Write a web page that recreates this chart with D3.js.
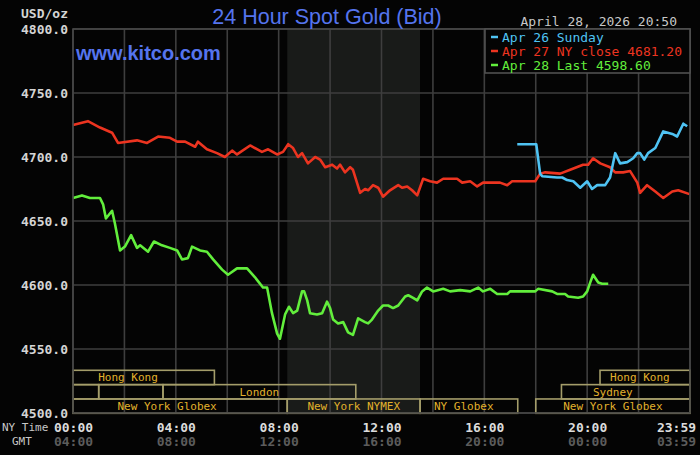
<!DOCTYPE html>
<html><head><meta charset="utf-8">
<script src="https://cdn.jsdelivr.net/npm/d3@7"></script>
<style>html,body{margin:0;padding:0;background:#040404;} svg{display:block}</style>
</head><body>
<svg id="c" width="700" height="455"></svg>
<script>
// ---------- data ----------
const yTicks = [4500, 4550, 4600, 4650, 4700, 4750, 4800];
const xTickHours = [0, 4, 8, 12, 16, 20, 23.983];
const nyLabels = ["00:00", "04:00", "08:00", "12:00", "16:00", "20:00", "23:59"];
const gmtLabels = ["04:00", "08:00", "12:00", "16:00", "20:00", "00:00", "03:59"];
const gridHours = [0, 2, 4, 6, 8, 10, 12, 14, 16, 18, 20, 22, 24];
const nymexHours = [8.333, 13.5];
const legendLabels = ["Apr 26 Sunday", "Apr 27 NY close 4681.20", "Apr 28 Last 4598.60"];
const seriesColors = ["#4fc3f3", "#ec3420", "#62ee3c"];

const blueTimes = [17.28, 18.02, 18.17, 18.25, 18.83, 19.03, 19.22, 19.46, 19.73, 20.00, 20.19, 20.39, 20.70, 20.89, 21.09, 21.28, 21.56, 21.79, 21.95, 22.06, 22.22, 22.37, 22.65, 22.96, 23.31, 23.50, 23.74, 23.89];
const blueValues = [4710, 4710, 4687, 4685, 4684, 4684, 4682, 4681, 4676, 4681, 4675, 4678, 4678, 4684, 4703, 4695, 4696, 4699, 4703, 4703, 4698, 4703, 4707, 4720, 4718, 4716, 4726, 4724];

const redTimes = [0.00, 0.58, 1.05, 1.52, 1.75, 2.49, 2.88, 3.31, 3.77, 4.05, 4.36, 4.75, 4.86, 5.21, 5.60, 5.91, 6.19, 6.38, 6.89, 7.35, 7.59, 7.94, 8.17, 8.37, 8.56, 8.75, 8.91, 9.14, 9.42, 9.61, 9.81, 10.08, 10.27, 10.39, 10.58, 10.78, 10.89, 11.17, 11.36, 11.48, 11.67, 11.87, 12.06, 12.33, 12.65, 12.80, 13.00, 13.19, 13.39, 13.62, 13.89, 14.16, 14.40, 14.75, 14.94, 15.14, 15.45, 15.72, 15.95, 16.34, 16.61, 16.89, 17.08, 17.98, 18.17, 18.37, 18.95, 19.34, 19.84, 20.04, 20.23, 20.51, 20.89, 21.09, 21.40, 21.67, 21.95, 22.06, 22.33, 22.65, 22.96, 23.31, 23.54, 23.98];
const redValues = [4725, 4728, 4723, 4719, 4711, 4713, 4711, 4716, 4715, 4712, 4712, 4708, 4712, 4706, 4703, 4700, 4705, 4702, 4709, 4704, 4706, 4702, 4704, 4710, 4707, 4700, 4703, 4695, 4700, 4698, 4692, 4694, 4691, 4694, 4688, 4692, 4690, 4672, 4675, 4674, 4678, 4676, 4669, 4674, 4678, 4676, 4677, 4674, 4670, 4683, 4681, 4680, 4683, 4683, 4683, 4680, 4681, 4677, 4680, 4680, 4680, 4678, 4681, 4681, 4687, 4688, 4687, 4690, 4694, 4694, 4699, 4695, 4692, 4688, 4688, 4689, 4680, 4672, 4678, 4673, 4668, 4673, 4674, 4671];

const greenTimes = [0.00, 0.35, 0.66, 1.05, 1.17, 1.28, 1.52, 1.63, 1.83, 2.02, 2.26, 2.49, 2.61, 2.92, 3.15, 3.46, 3.77, 4.05, 4.24, 4.47, 4.63, 4.94, 5.21, 5.45, 5.80, 6.03, 6.38, 6.77, 7.08, 7.39, 7.55, 7.74, 7.94, 8.05, 8.25, 8.40, 8.56, 8.72, 8.91, 8.99, 9.11, 9.22, 9.49, 9.69, 9.88, 10.00, 10.12, 10.31, 10.51, 10.70, 10.89, 11.09, 11.36, 11.48, 11.63, 11.87, 12.06, 12.26, 12.45, 12.65, 12.92, 13.04, 13.23, 13.39, 13.58, 13.77, 14.01, 14.40, 14.67, 15.06, 15.45, 15.76, 15.95, 16.23, 16.50, 16.89, 17.00, 17.98, 18.09, 18.64, 18.83, 19.14, 19.26, 19.65, 19.84, 20.00, 20.12, 20.23, 20.43, 20.58, 20.82];
const greenValues = [4668, 4670, 4668, 4668, 4663, 4652, 4658, 4648, 4627, 4630, 4639, 4629, 4631, 4626, 4634, 4631, 4629, 4627, 4620, 4621, 4630, 4627, 4626, 4620, 4612, 4608, 4613, 4613, 4606, 4598, 4598, 4578, 4562, 4558, 4577, 4583, 4578, 4580, 4595, 4595, 4588, 4578, 4577, 4578, 4587, 4582, 4573, 4570, 4571, 4563, 4561, 4574, 4571, 4570, 4573, 4580, 4584, 4584, 4582, 4584, 4591, 4592, 4590, 4588, 4595, 4598, 4595, 4597, 4595, 4596, 4595, 4598, 4595, 4597, 4593, 4593, 4595, 4595, 4597, 4595, 4593, 4593, 4591, 4590, 4591, 4595, 4602, 4608, 4602, 4601, 4601];

// market sessions: row, start hour, end hour, label, label hour
const sessionRows = [0, 0, 1, 1, 1, 1, 2, 2, 2, 2];
const sessionStarts = [0, 20.5, 0, 1, 3.5, 19, 0, 8.333, 13.5, 18];
const sessionEnds = [5.5, 24, 1, 3.5, 11, 24, 8.333, 13.5, 17.3, 24];
const sessionNames = ["Hong Kong", "Hong Kong", "", "", "London", "Sydney", "New York Globex", "New York NYMEX", "NY Globex", "New York Globex"];
const sessionLabelHours = [2.14, 22.05, 0, 0, 7.25, 21.0, 3.66, 10.92, 15.2, 21.0];

// ---------- drawing ----------
const W = 700, H = 455;
const pLeft = 73, pRight = 690, pTop = 29, pBottom = 413;
const mono = "'DejaVu Sans Mono', monospace";
const svg = d3.select("#c");
svg.append("rect").attr("width", W).attr("height", H).attr("fill", "#040404");

const x = d3.scaleLinear().domain([0, 24]).range([pLeft, pRight]);
const y = d3.scaleLinear().domain([4500, 4800]).range([pBottom, pTop]);
const rowY = d3.scaleLinear().domain([0, 3]).range([370.3, 413.3]);

// NYMEX shaded region
svg.append("rect")
  .attr("x", x(nymexHours[0])).attr("y", pTop)
  .attr("width", x(nymexHours[1]) - x(nymexHours[0])).attr("height", pBottom - pTop)
  .attr("fill", "#191b19");

// grid
const grid = svg.append("g").attr("stroke", "#3e3e3e").attr("stroke-width", 1.6);
grid.selectAll("line.v").data(gridHours).join("line").attr("class", "v")
  .attr("x1", d => x(d)).attr("x2", d => x(d)).attr("y1", pTop).attr("y2", pBottom);
grid.selectAll("line.h").data(yTicks).join("line").attr("class", "h")
  .attr("x1", pLeft).attr("x2", pRight).attr("y1", d => y(d)).attr("y2", d => y(d));

// sessions
const sess = sessionRows.map((r, i) => ({r, s: sessionStarts[i], e: sessionEnds[i], n: sessionNames[i], lh: sessionLabelHours[i]}));
const sg = svg.append("g");
sg.selectAll("rect").data(sess).join("rect")
  .attr("x", d => x(d.s)).attr("width", d => x(d.e) - x(d.s))
  .attr("y", d => rowY(d.r)).attr("height", d => rowY(d.r + 1) - rowY(d.r))
  .attr("fill", "none").attr("stroke", "#a49d6a").attr("stroke-width", 1.6);
sg.selectAll("text").data(sess.filter(d => d.n)).join("text")
  .attr("x", d => x(d.lh)).attr("y", d => (rowY(d.r) + rowY(d.r + 1)) / 2 + 4)
  .attr("text-anchor", "middle").attr("fill", "#e2b22c")
  .attr("font-family", mono).attr("font-size", 11).text(d => d.n);

// lines
const line = d3.line().x(d => x(d[0])).y(d => y(d[1]));
const series = [
  d3.zip(blueTimes, blueValues),
  d3.zip(redTimes, redValues),
  d3.zip(greenTimes, greenValues)
];
const drawOrder = [1, 0, 2];
svg.append("g").selectAll("path").data(drawOrder).join("path")
  .attr("d", i => line(series[i])).attr("fill", "none")
  .attr("stroke", i => seriesColors[i])
  .attr("stroke-width", 2.6).attr("stroke-linejoin", "round");

// y axis
const ya = svg.append("g").attr("transform", `translate(${pLeft},0)`)
  .call(d3.axisLeft(y).tickValues(yTicks).tickFormat(d3.format(".1f")).tickSize(0).tickPadding(5));
ya.select(".domain").remove();
ya.selectAll("text").attr("fill", "#d4d4d4").attr("font-family", mono).attr("font-size", 13).attr("font-weight", "bold");

svg.append("text").attr("x", 68).attr("y", 18).attr("text-anchor", "end")
  .attr("fill", "#d4d4d4").attr("font-family", mono).attr("font-size", 13).attr("font-weight", "bold").text("USD/oz");

// x axes
function xAxisRow(labels, yPos, color) {
  const g = svg.append("g").attr("transform", `translate(0,${yPos})`)
    .call(d3.axisBottom(x).tickValues(xTickHours).tickFormat((d, i) => labels[i]).tickSize(0).tickPadding(0));
  g.select(".domain").remove();
  g.selectAll("text").attr("fill", color).attr("font-family", mono).attr("font-size", 13).attr("font-weight", "bold")
    .attr("dy", "0.35em").attr("y", 0);
  g.selectAll(".tick").filter((d, i) => i === xTickHours.length - 1).select("text")
    .attr("text-anchor", "end").attr("x", 6);
}
xAxisRow(nyLabels, 427, "#dcdcdc");
xAxisRow(gmtLabels, 441, "#5c5c5c");
svg.append("text").attr("x", 2).attr("y", 431).attr("fill", "#c8c8c8").attr("font-family", mono).attr("font-size", 11).text("NY Time");
svg.append("text").attr("x", 12).attr("y", 445).attr("fill", "#c8c8c8").attr("font-family", mono).attr("font-size", 11).text("GMT");

// plot border
svg.append("rect").attr("x", pLeft).attr("y", pTop).attr("width", pRight - pLeft).attr("height", pBottom - pTop)
  .attr("fill", "none").attr("stroke", "#474747").attr("stroke-width", 1.6);

// legend
const lg = svg.append("g");
lg.append("rect").attr("x", 485).attr("y", pTop).attr("width", pRight - 485).attr("height", 44)
  .attr("fill", "#040404").attr("stroke", "#505050").attr("stroke-width", 1.6);
const legendRowY = d3.scaleLinear().domain([0, 1]).range([37, 51]);
legendLabels.forEach((lab, i) => {
  const cy = legendRowY(i);
  lg.append("line").attr("x1", 491).attr("x2", 498).attr("y1", cy).attr("y2", cy)
    .attr("stroke", seriesColors[i]).attr("stroke-width", 2.5);
  lg.append("text").attr("x", 502).attr("y", cy + 4.5).attr("fill", seriesColors[i])
    .attr("font-family", mono).attr("font-size", 13).text(lab);
});

// header texts
svg.append("text").attr("x", 677).attr("y", 26).attr("text-anchor", "end")
  .attr("fill", "#c8c8c8").attr("font-family", mono).attr("font-size", 13).text("April 28, 2026 20:50");
svg.append("text").attr("x", 327).attr("y", 23.5).attr("text-anchor", "middle")
  .attr("fill", "#5574ee").attr("font-family", "'Liberation Sans', Arial, sans-serif").attr("font-size", 21.5)
  .text("24 Hour Spot Gold (Bid)");
svg.append("text").attr("x", 76).attr("y", 60)
  .attr("fill", "#5574ee").attr("font-family", "'Liberation Sans', Arial, sans-serif").attr("font-size", 20).attr("font-weight", "bold")
  .text("www.kitco.com");
</script>
</body></html>
